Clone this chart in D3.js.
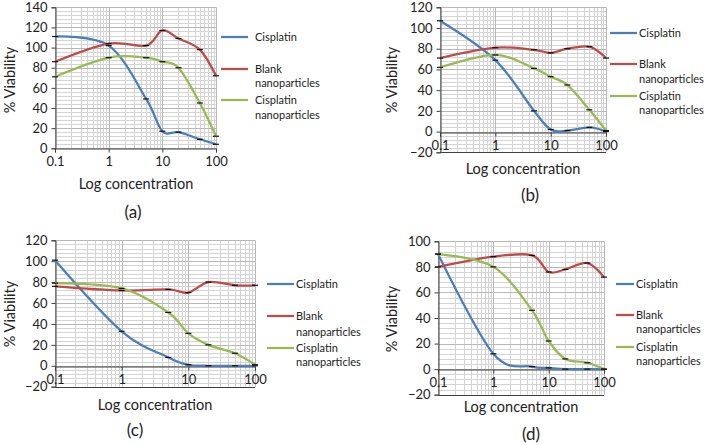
<!DOCTYPE html>
<html>
<head>
<meta charset="utf-8">
<script src="https://cdn.jsdelivr.net/npm/d3@7"></script>
<style>
  body { margin: 0; background: #fff; }
  svg { font-family: "Lato", "Open Sans", sans-serif; }
</style>
</head>
<body>
<div id="chart-area"></div>
<script>
// concentrations shared by all four panels
var conc = [0.1, 1, 5, 10, 20, 50, 100];
var seriesNames = ["Cisplatin", "Blank nanoparticles", "Cisplatin nanoparticles"];
var colors = ["#4A7EBB", "#BE4B48", "#98B954"];
var xTicks = [0.1, 1, 10, 100];

// panel (a)
var aCisplatin = [111, 102, 49, 17, 16, 9, 4];
var aBlank     = [86, 104, 102, 117, 109, 98, 72];
var aCisNano   = [71, 90, 90, 86, 80, 45, 12];
var aYTicks    = [0, 20, 40, 60, 80, 100, 120, 140];

// panel (b)
var bCisplatin = [107, 69, 20, 2, 1, 4, 0];
var bBlank     = [71, 81, 79, 76, 80, 82, 71];
var bCisNano   = [62, 74, 61, 53, 45, 21, 1];
var bYTicks    = [-20, 0, 20, 40, 60, 80, 100, 120];

// panel (c)
var cCisplatin = [101, 33, 8, 1, 0, 0, 0];
var cBlank     = [76, 72, 73, 70, 80, 77, 77];
var cCisNano   = [79, 74, 51, 31, 20, 12, 1];
var cYTicks    = [-20, 0, 20, 40, 60, 80, 100, 120];

// panel (d)
var dCisplatin = [90, 12, 2, 1, 0, 0, 0];
var dBlank     = [80, 88, 89, 76, 78, 83, 72];
var dCisNano   = [90, 80, 46, 22, 8, 5, 0];
var dYTicks    = [-20, 0, 20, 40, 60, 80, 100];

var svg = d3.select("#chart-area").append("svg")
  .attr("width", 708)
  .attr("height", 445);

function panel(p) {
  var g = svg.append("g");
  var x = d3.scaleLog().domain([0.1, 100]).range([p.x0, p.x1]);
  var yMin = p.ticks[0], yMax = p.ticks[p.ticks.length - 1];
  var y = d3.scaleLinear().domain([yMin, yMax]).range([p.y0, p.y1]);

  // minor vertical grid
  var minorX = [];
  [0.1, 1, 10].forEach(function(dec) {
    for (var k = 2; k <= 9; k++) minorX.push(dec * k);
  });
  g.selectAll(".vmin").data(minorX).enter().append("line")
    .attr("x1", d => Math.round(x(d)) + 0.5).attr("x2", d => Math.round(x(d)) + 0.5)
    .attr("y1", y(yMax)).attr("y2", y(yMin))
    .attr("stroke", "#d4d4d4").attr("stroke-width", 1);

  // minor horizontal grid (every 4 units)
  var minorY = d3.range(yMin, yMax + 0.1, 4);
  g.selectAll(".hmin").data(minorY).enter().append("line")
    .attr("x1", p.x0).attr("x2", p.x1)
    .attr("y1", d => Math.round(y(d)) + 0.5).attr("y2", d => Math.round(y(d)) + 0.5)
    .attr("stroke", "#d4d4d4").attr("stroke-width", 1);

  // major grid
  g.selectAll(".vmaj").data(xTicks).enter().append("line")
    .attr("x1", d => Math.round(x(d)) + 0.5).attr("x2", d => Math.round(x(d)) + 0.5)
    .attr("y1", y(yMax)).attr("y2", y(yMin))
    .attr("stroke", "#b8b8b8").attr("stroke-width", 1);
  g.selectAll(".hmaj").data(p.ticks).enter().append("line")
    .attr("x1", p.x0).attr("x2", p.x1)
    .attr("y1", d => Math.round(y(d)) + 0.5).attr("y2", d => Math.round(y(d)) + 0.5)
    .attr("stroke", "#b8b8b8").attr("stroke-width", 1);

  // y axis
  var yAxis = d3.axisLeft(y).tickValues(p.ticks).tickSize(4).tickPadding(4);
  var ya = g.append("g").attr("transform", "translate(" + (Math.round(p.x0) + 0.5) + ",0)").call(yAxis);
  ya.select(".domain").attr("stroke", "#404040");
  ya.selectAll(".tick line").attr("stroke", "#404040");
  ya.selectAll("text").attr("font-size", 13).attr("fill", "#222")
    .attr("font-family", "Lato, 'Open Sans', sans-serif");

  // x axis at y = 0
  var xAxis = d3.axisBottom(x).tickValues(xTicks).tickSize(4).tickPadding(4)
    .tickFormat(d => String(d));
  var xa = g.append("g").attr("transform", "translate(0," + (Math.round(y(0)) + 0.5) + ")").call(xAxis);
  xa.select(".domain").attr("stroke", "#404040");
  xa.selectAll(".tick line").attr("stroke", "#404040");
  xa.selectAll("text").attr("font-size", 13).attr("fill", "#222")
    .attr("font-family", "Lato, 'Open Sans', sans-serif");

  // bottom border when axis does not sit at the bottom
  if (yMin < 0) {
    g.append("line").attr("x1", p.x0).attr("x2", p.x1)
      .attr("y1", Math.round(y(yMin)) + 0.5).attr("y2", Math.round(y(yMin)) + 0.5)
      .attr("stroke", "#404040");
  }

  // lines
  var line = d3.line()
    .x((d, i) => x(conc[i]))
    .y(d => y(d))
    .curve(d3.curveCardinal.tension(0));
  p.series.forEach(function(s, i) {
    g.append("path").datum(s)
      .attr("d", line)
      .attr("fill", "none")
      .attr("stroke", colors[i])
      .attr("stroke-width", 2.25);
  });

  // error bar caps
  p.series.forEach(function(s) {
    g.selectAll(null).data(s).enter().append("line")
      .attr("x1", (d, i) => x(conc[i]) - 3).attr("x2", (d, i) => x(conc[i]) + 3)
      .attr("y1", d => y(d)).attr("y2", d => y(d))
      .attr("stroke", "#111").attr("stroke-width", 1.2);
  });

  // legend
  var leg = g.append("g");
  p.legend.forEach(function(l, i) {
    leg.append("line").attr("x1", p.lx0).attr("x2", p.lx1)
      .attr("y1", l[0]).attr("y2", l[0])
      .attr("stroke", colors[i]).attr("stroke-width", 2.25);
    var words = seriesNames[i].split(" ");
    words.forEach(function(w, j) {
      leg.append("text").attr("x", p.tx).attr("y", l[j])
        .attr("dy", "0.35em").attr("font-size", 11).attr("fill", "#222")
        .text(w);
    });
  });

  // axis titles
  g.append("text").attr("x", p.xtX).attr("y", p.xtY)
    .attr("text-anchor", "middle").attr("font-size", 14.5).attr("fill", "#222")
    .text("Log concentration");
  g.append("text")
    .attr("transform", "translate(" + p.ytX + "," + p.ytY + ") rotate(-90)")
    .attr("text-anchor", "middle").attr("dy", "0.35em").attr("font-size", 14.5).attr("fill", "#222")
    .text("% Viability");
  g.append("text").attr("x", p.lbX).attr("y", p.lbY)
    .attr("text-anchor", "middle").attr("dy", "0.35em").attr("font-size", 17).attr("fill", "#222")
    .text(p.label);
}

panel({
  x0: 55, x1: 216, y0: 148.3, y1: 7.3, ticks: aYTicks,
  series: [aCisplatin, aBlank, aCisNano],
  lx0: 221, lx1: 248, tx: 255,
  legend: [[37], [69, 83], [100, 115]],
  xtX: 136, xtY: 189, ytX: 10, ytY: 80, lbX: 133, lbY: 212, label: "(a)"
});
panel({
  x0: 440, x1: 606, y0: 152.3, y1: 7.3, ticks: bYTicks,
  series: [bCisplatin, bBlank, bCisNano],
  lx0: 610, lx1: 637, tx: 639,
  legend: [[33], [64, 79], [96, 110]],
  xtX: 523, xtY: 174, ytX: 392, ytY: 80, lbX: 530, lbY: 195, label: "(b)"
});
panel({
  x0: 55, x1: 255, y0: 386.7, y1: 240.3, ticks: cYTicks,
  series: [cCisplatin, cBlank, cCisNano],
  lx0: 267, lx1: 294, tx: 296,
  legend: [[284], [316, 332], [348, 362]],
  xtX: 155, xtY: 410, ytX: 10, ytY: 314, lbX: 135, lbY: 430, label: "(c)"
});
panel({
  x0: 438, x1: 604, y0: 394.7, y1: 241.3, ticks: dYTicks,
  series: [dCisplatin, dBlank, dCisNano],
  lx0: 616, lx1: 634, tx: 636,
  legend: [[284], [315, 329], [347, 361]],
  xtX: 521, xtY: 412, ytX: 392, ytY: 319, lbX: 531, lbY: 434, label: "(d)"
});
</script>
</body>
</html>
